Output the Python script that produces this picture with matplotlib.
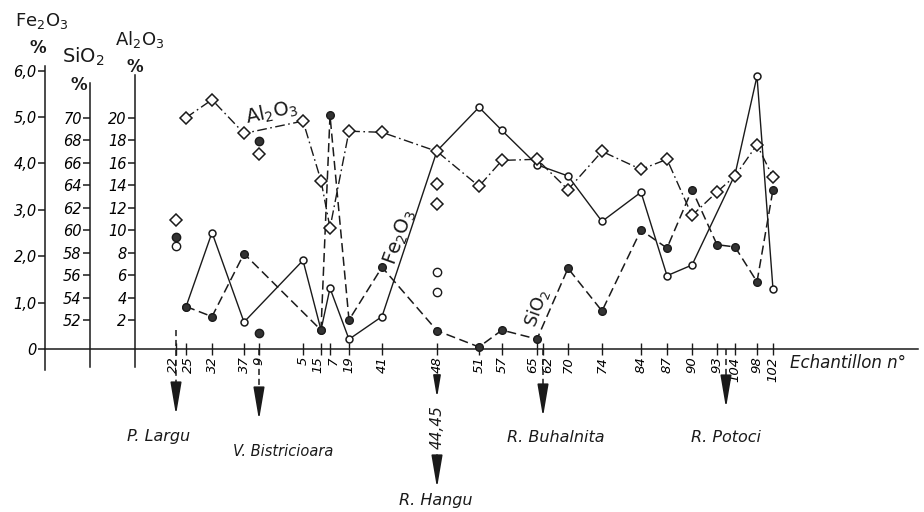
import matplotlib.pyplot as plt
from matplotlib.transforms import ScaledTranslation

plt.rcParams.update({'font.family': 'DejaVu Sans', 'mathtext.default': 'regular'})

# sample numbers along the profile and their position (distance along section)
tick_labels = ["22", "25", "32", "37", "9", "5", "15", "7", "19", "41", "48", "51",
               "57", "65", "62", "70", "74", "84", "87", "90", "93", "104", "98", "102"]
tick_pos = [131, 141, 167, 199, 214, 258, 276, 285, 304, 337, 392, 434,
            457, 492, 498, 523, 557, 596, 622, 647, 672, 690, 712, 728]
pos = dict(zip(tick_labels, tick_pos))

# Fe2O3 %  (solid line, open circles)
fe_samples = ["25", "32", "37", "5", "15", "7", "19", "41", "48", "51", "57", "65",
              "70", "74", "84", "87", "90", "104", "98", "102"]
fe_vals = [0.91, 2.51, 0.58, 1.91, 0.41, 1.31, 0.21, 0.70, 4.27, 5.21, 4.71, 3.97,
           3.73, 2.75, 3.38, 1.58, 1.81, 3.76, 5.88, 1.29]
fe_iso_samples = ["22", "48", "48"]          # 22 and 44,45 (drawn at 48)
fe_iso_vals = [2.21, 1.65, 1.22]

# SiO2 %  (dashed line, filled circles)
si_samples = ["25", "32", "37", "15", "7", "19", "41", "48", "51", "57", "65", "70",
              "74", "84", "87", "90", "93", "104", "98", "102"]
si_vals = [53.2, 52.3, 57.9, 51.1, 70.2, 52.0, 56.7, 51.05, 49.6, 51.1, 50.3, 56.6,
           52.8, 60.0, 58.4, 63.6, 58.7, 58.5, 55.4, 63.6]
si_iso_samples = ["22", "9", "9"]
si_iso_vals = [59.4, 67.9, 50.8]

# Al2O3 %  (dash-dot line, diamonds)
al_samples = ["25", "32", "37", "5", "15", "7", "19", "41", "48", "51", "57", "65",
              "70", "74", "84", "87", "90", "93", "104", "98", "102"]
al_vals = [20.0, 21.6, 18.6, 19.7, 14.4, 10.2, 18.8, 18.7, 17.0, 13.9, 16.2, 16.3,
           13.6, 17.0, 15.4, 16.3, 11.3, 13.4, 14.8, 17.6, 14.7]
al_iso_samples = ["22", "9", "48", "48"]
al_iso_vals = [10.9, 16.8, 14.1, 12.3]

fe_ticks = [0, 1, 2, 3, 4, 5, 6]
fe_tick_labels = ["0", "1,0", "2,0", "3,0", "4,0", "5,0", "6,0"]
si_ticks = [52, 54, 56, 58, 60, 62, 64, 66, 68, 70]
al_ticks = [2, 4, 6, 8, 10, 12, 14, 16, 18, 20]

ink = '#1a1a1a'
W, H = 924, 512
L, R, TOP, BOT = 45, 918, 66, 370

# small sideways nudges (pixels) for crowded sample labels
label_nudge = {"22": -3, "25": 2, "15": -3, "7": 3, "65": -4, "62": 5}


def fp(x, y):
    return x / W, 1 - y / H


def fe_y(ypx):
    # pixel row -> Fe2O3 data units of main axes
    return (349 - ypx) / 46.41


fig = plt.figure(figsize=(W / 100, H / 100), dpi=100)
ax = fig.add_axes([L / W, 1 - BOT / H, (R - L) / W, (BOT - TOP) / H])
ax.set_xlim(0, R - L)
ax.set_ylim(-0.4526, 6.1)
ax.patch.set_visible(False)
for s in ['top', 'right']:
    ax.spines[s].set_visible(False)
ax.spines['bottom'].set_position(('data', 0))
for s in ['left', 'bottom']:
    ax.spines[s].set_linewidth(1.1)
    ax.spines[s].set_color(ink)
ax.set_yticks(fe_ticks, fe_tick_labels, fontstyle='italic', fontsize=10.5)
ax.tick_params(axis='y', direction='out', length=5, width=1.1, color=ink, pad=1)
ax.set_xticks(tick_pos, tick_labels, rotation=90, fontstyle='italic', fontsize=9.5)
ax.tick_params(axis='x', direction='inout', length=9, width=1.0, color=ink, pad=1)
for tl in ax.get_xticklabels():
    dx = label_nudge.get(tl.get_text(), 0)
    if dx:
        tl.set_transform(tl.get_transform() + ScaledTranslation(dx / 100, 0, fig.dpi_scale_trans))

ax_si = ax.twinx()
ax_al = ax.twinx()
for a, lim, bounds, frac, ticks in [
        (ax_si, (47.55, 74.60), (47.82, 73.09), 45 / 873, si_ticks),
        (ax_al, (-2.45, 24.60), (-2.18, 23.8), 90 / 873, al_ticks)]:
    for s in a.spines.values():
        s.set_visible(False)
    a.spines['left'].set_visible(True)
    a.spines['left'].set_position(('axes', frac))
    a.spines['left'].set_bounds(*bounds)
    a.spines['left'].set_linewidth(1.1)
    a.spines['left'].set_color(ink)
    a.yaxis.tick_left()
    a.set_ylim(*lim)
    a.set_yticks(ticks, [str(t) for t in ticks], fontstyle='italic', fontsize=10.5)
    a.tick_params(axis='y', direction='out', length=5, width=1.1, color=ink, pad=1)

# series
ax.plot([pos[s] for s in fe_samples], fe_vals, '-', color=ink, lw=1.0,
        marker='o', ms=5, mfc='white', mec=ink, mew=1.1, clip_on=False)
ax.plot([pos[s] for s in fe_iso_samples], fe_iso_vals, ls='none',
        marker='o', ms=6, mfc='white', mec=ink, mew=1.0, clip_on=False)

ax_si.plot([pos[s] for s in si_samples], si_vals, color=ink, lw=1.1, dashes=(6, 3),
           marker='o', ms=5.5, mfc='#333333', mec=ink, clip_on=False)
ax_si.plot([pos[s] for s in si_iso_samples], si_iso_vals, ls='none',
           marker='o', ms=6, mfc='#333333', mec=ink, clip_on=False)

ax_al.plot([pos[s] for s in al_samples], al_vals, color=ink, lw=1.0,
           dashes=(7, 2.5, 1.2, 2.5), marker='D', ms=6.5, mfc='white', mec=ink,
           mew=1.1, clip_on=False)
ax_al.plot([pos[s] for s in al_iso_samples], al_iso_vals, ls='none',
           marker='D', ms=6.5, mfc='white', mec=ink, mew=1.1, clip_on=False)

# river arrows below the sample axis
arrow = dict(arrowstyle='-|>,head_length=1.0,head_width=0.17', color=ink, lw=1.2,
             shrinkA=0, shrinkB=0, mutation_scale=20)


def river_arrow(x, dash_top, dash_bot, a_top, a_tip):
    ax.plot([x, x], [fe_y(dash_top), fe_y(dash_bot)], color=ink, lw=1.1,
            dashes=(4, 2.5), clip_on=False)
    ax.annotate('', xy=(x, fe_y(a_tip)), xytext=(x, fe_y(a_top)),
                arrowprops=arrow, annotation_clip=False)


river_arrow(pos["22"], 330, 392, 386, 415)
river_arrow(pos["9"], 349, 395, 390, 420)
river_arrow(pos["62"], 349, 395, 388, 417)
river_arrow((pos["93"] + pos["104"]) / 2, 349, 385, 380, 408)
# Hangu: 48 -> 44,45 -> arrow
ax.annotate('', xy=(pos["48"], fe_y(398)), xytext=(pos["48"], fe_y(376)),
            arrowprops=dict(arrow, mutation_scale=13), annotation_clip=False)
ax.annotate('', xy=(pos["48"], fe_y(488)), xytext=(pos["48"], fe_y(455)),
            arrowprops=arrow, annotation_clip=False)
fig.text(*fp(437, 427), "44,45", rotation=90, ha='center', va='center',
         fontstyle='italic', fontsize=11, color=ink)

river_kw = dict(ha='center', va='center', fontstyle='italic', fontsize=11.5, color=ink)
fig.text(*fp(159, 436), "P. Largu", **river_kw)
fig.text(*fp(283, 452), "V. Bistricioara", **dict(river_kw, fontsize=10.5))
fig.text(*fp(436, 500), "R. Hangu", **river_kw)
fig.text(*fp(556, 437), "R. Buhalnita", **river_kw)
fig.text(*fp(726, 437), "R. Potoci", **river_kw)
fig.text(*fp(790, 363), "Echantillon n°", ha='left', va='center',
         fontstyle='italic', fontsize=12, color=ink)

# axis titles
tkw = dict(ha='center', va='center', color=ink)
fig.text(*fp(42, 21), "Fe$_2$O$_3$", fontsize=13, **tkw)
fig.text(*fp(38, 48), "%", fontsize=12, fontweight='bold', **tkw)
fig.text(*fp(83, 57), "SiO$_2$", fontsize=14, **tkw)
fig.text(*fp(79, 85), "%", fontsize=12, fontweight='bold', **tkw)
fig.text(*fp(140, 40), "Al$_2$O$_3$", fontsize=13, **tkw)
fig.text(*fp(135, 67), "%", fontsize=12, fontweight='bold', **tkw)

# curve labels
fig.text(*fp(272, 113), "Al$_2$O$_3$", fontsize=14, rotation=12, **tkw)
fig.text(*fp(400, 237), "Fe$_2$O$_3$", fontsize=14, rotation=70, **tkw)
fig.text(*fp(537, 308), "SiO$_2$", fontsize=13, rotation=70, **tkw)

fig.savefig('out.png', dpi=100, facecolor='white')
